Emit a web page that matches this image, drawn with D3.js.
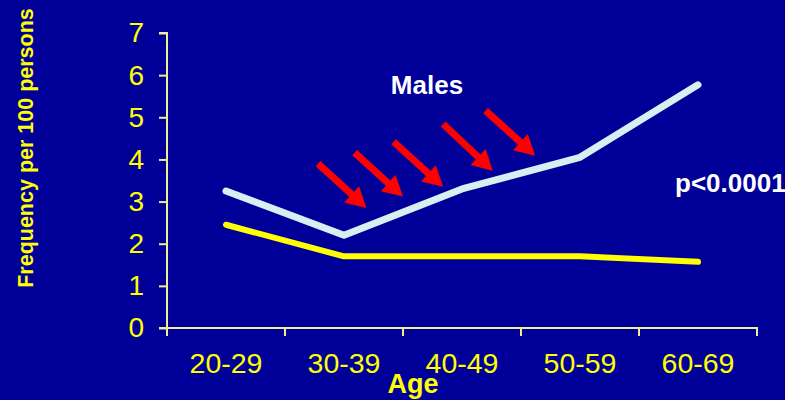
<!DOCTYPE html>
<html>
<head>
<meta charset="utf-8">
<script src="https://cdn.jsdelivr.net/npm/d3@7"></script>
<style>
  body { margin: 0; background: #000099; }
  svg { display: block; font-family: "Liberation Sans", Arial, sans-serif; }
</style>
</head>
<body>
<div id="chart"></div>
<script>
const ageGroups = ["20-29", "30-39", "40-49", "50-59", "60-69"];
const males = [3.25, 2.2, 3.3, 4.05, 5.77];
const females = [2.45, 1.7, 1.7, 1.7, 1.57];
const yTicks = [0, 1, 2, 3, 4, 5, 6, 7];
// arrows in data units: category index and value
const arrowTails = [[0.78, 3.9], [1.09, 4.16], [1.42, 4.42], [1.84, 4.84], [2.2, 5.16]];
const arrowHeads = [[1.19, 2.85], [1.5, 3.12], [1.84, 3.35], [2.26, 3.73], [2.62, 4.09]];

const width = 785;
const height = 400;
const margin = { top: 33, right: 28, bottom: 72, left: 167 };
const chartWidth = width - margin.left - margin.right;
const chartHeight = height - margin.top - margin.bottom;
const axisColor = "#EEEE99";

const svg = d3.select("#chart").append("svg")
  .attr("width", width)
  .attr("height", height);

svg.append("rect").attr("width", width).attr("height", height).attr("fill", "#000099");

const chart = svg.append("g")
  .attr("transform", `translate(${margin.left}, ${margin.top})`);

const xScale = d3.scaleBand().domain(ageGroups).range([0, chartWidth]);
const yScale = d3.scaleLinear().domain([0, 7]).range([chartHeight, 0]);
const xIdx = d3.scaleLinear().domain([0, 1]).range([xScale.bandwidth() / 2, xScale.bandwidth() * 1.5]);

// y axis
const yAxis = chart.append("g")
  .call(d3.axisLeft(yScale).tickValues(yTicks).tickSize(8).tickPadding(15).tickFormat(d3.format("d")));
yAxis.select(".domain").attr("stroke", axisColor).attr("stroke-width", 2).attr("d", `M-8,0H0V${chartHeight + 8}`);
yAxis.selectAll(".tick line").attr("stroke", axisColor).attr("stroke-width", 2);
yAxis.selectAll(".tick text").attr("fill", "#FFFF00").attr("font-size", 28);

// x axis
const xAxis = chart.append("g")
  .attr("transform", `translate(0, ${chartHeight})`)
  .call(d3.axisBottom(xScale).tickSize(0).tickPadding(25));
xAxis.select(".domain").attr("stroke", axisColor).attr("stroke-width", 2)
  .attr("d", `M-8,0H${chartWidth}V8`);
xAxis.selectAll(".tick text").attr("fill", "#FFFF00").attr("font-size", 28.5);
chart.append("g")
  .attr("transform", `translate(0, ${chartHeight})`)
  .selectAll("line")
  .data(ageGroups.slice(1))
  .join("line")
  .attr("x1", (d) => xScale(d))
  .attr("x2", (d) => xScale(d))
  .attr("y1", 0)
  .attr("y2", 8)
  .attr("stroke", axisColor)
  .attr("stroke-width", 2);

const line = d3.line()
  .x((d, i) => xScale(ageGroups[i]) + xScale.bandwidth() / 2)
  .y((d) => yScale(d));

chart.append("path")
  .datum(females)
  .attr("d", line)
  .attr("fill", "none")
  .attr("stroke", "#FFFF00")
  .attr("stroke-width", 6)
  .attr("stroke-linecap", "round")
  .attr("stroke-linejoin", "round");

chart.append("path")
  .datum(males)
  .attr("d", line)
  .attr("fill", "none")
  .attr("stroke", "#D8EEF0")
  .attr("stroke-width", 7)
  .attr("stroke-linecap", "round")
  .attr("stroke-linejoin", "round");

// red arrows
arrowTails.forEach((t, i) => {
  const h = arrowHeads[i];
  const x1 = xIdx(t[0]), y1 = yScale(t[1]);
  const x2 = xIdx(h[0]), y2 = yScale(h[1]);
  const ang = Math.atan2(y2 - y1, x2 - x1);
  const len = Math.hypot(x2 - x1, y2 - y1);
  const headLen = 20, headW = 11, shaftW = 3.5;
  const pts = [
    [0, -shaftW], [len - headLen, -shaftW], [len - headLen, -headW],
    [len, 0], [len - headLen, headW], [len - headLen, shaftW], [0, shaftW],
  ];
  chart.append("polygon")
    .attr("points", pts.map((p) => p.join(",")).join(" "))
    .attr("transform", `translate(${x1}, ${y1}) rotate(${ang * 180 / Math.PI})`)
    .attr("fill", "#FF0000");
});

chart.append("text")
  .attr("x", 427 - margin.left)
  .attr("y", 94 - margin.top)
  .attr("text-anchor", "middle")
  .attr("fill", "#FFFFFF")
  .attr("font-weight", "bold")
  .attr("font-size", 26)
  .text("Males");

chart.append("text")
  .attr("x", 675 - margin.left)
  .attr("y", 192 - margin.top)
  .attr("fill", "#FFFFFF")
  .attr("font-weight", "bold")
  .attr("font-size", 26)
  .text("p<0.0001");

chart.append("text")
  .attr("x", 413 - margin.left)
  .attr("y", 393 - margin.top)
  .attr("text-anchor", "middle")
  .attr("fill", "#FFFF00")
  .attr("font-weight", "bold")
  .attr("font-size", 27)
  .text("Age");

svg.append("text")
  .attr("transform", `translate(27, 148) rotate(-90)`)
  .attr("text-anchor", "middle")
  .attr("dominant-baseline", "middle")
  .attr("fill", "#FFFF00")
  .attr("font-weight", "bold")
  .attr("font-size", 21.5)
  .text("Frequency per 100 persons");
</script>
</body>
</html>
